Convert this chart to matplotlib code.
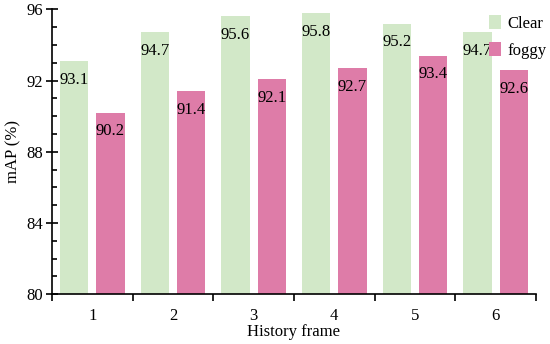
import matplotlib
matplotlib.use("Agg")
import matplotlib.pyplot as plt
import numpy as np
from matplotlib.ticker import MultipleLocator, FixedLocator

frames = ["1", "2", "3", "4", "5", "6"]
clear = [93.1, 94.7, 95.6, 95.8, 95.2, 94.7]
foggy = [90.2, 91.4, 92.1, 92.7, 93.4, 92.6]

plt.rcParams["font.family"] = ["Liberation Serif", "DejaVu Serif"]
plt.rcParams["font.size"] = 12

fig = plt.figure(figsize=(5.5, 3.44), dpi=100)
ax = fig.add_axes([0.0945, 0.1445, 0.88, 0.8285])

x = np.arange(1, len(frames) + 1)
w = 0.35
off = 0.225
ax.bar(x - off, np.array(clear) - 80, w, bottom=80, color="#d2e8c8", label="Clear")
ax.bar(x + off, np.array(foggy) - 80, w, bottom=80, color="#de7ca8", label="foggy")

# value labels sit just below the top of each bar
for xs, vals in ((x - off, clear), (x + off, foggy)):
    for xi, v in zip(xs, vals):
        ax.annotate(f"{v:.1f}", (xi, v), xytext=(0, -13.5), textcoords="offset points",
                    ha="center", va="center")

ax.set_xlim(0.5, 6.5)
ax.set_ylim(80, 96)
ax.set_xticks(x)
ax.set_xticklabels(frames)
ax.xaxis.set_minor_locator(FixedLocator(np.arange(0.5, 6.6, 1)))
ax.tick_params(axis="x", which="major", length=0, pad=10)
ax.tick_params(axis="x", which="minor", direction="out", length=5, width=1.2)

ax.yaxis.set_major_locator(MultipleLocator(4))
ax.yaxis.set_minor_locator(MultipleLocator(1))
ax.tick_params(axis="y", which="major", direction="inout", length=8.5, width=1.2, pad=2)
ax.tick_params(axis="y", which="minor", direction="in", length=3.6, width=1.2)

for s in ("top", "right"):
    ax.spines[s].set_visible(False)
for s in ("left", "bottom"):
    ax.spines[s].set_linewidth(1.2)

ax.set_xlabel("History frame", labelpad=0)
ax.set_ylabel("mAP (%)", labelpad=4)

ax.legend(loc="upper right", bbox_to_anchor=(1.045, 1.02), frameon=False,
          handlelength=0.7, handleheight=0.9, handletextpad=0.35, labelspacing=0.6,
          borderaxespad=0.3)

fig.savefig("out.png", dpi=100)
